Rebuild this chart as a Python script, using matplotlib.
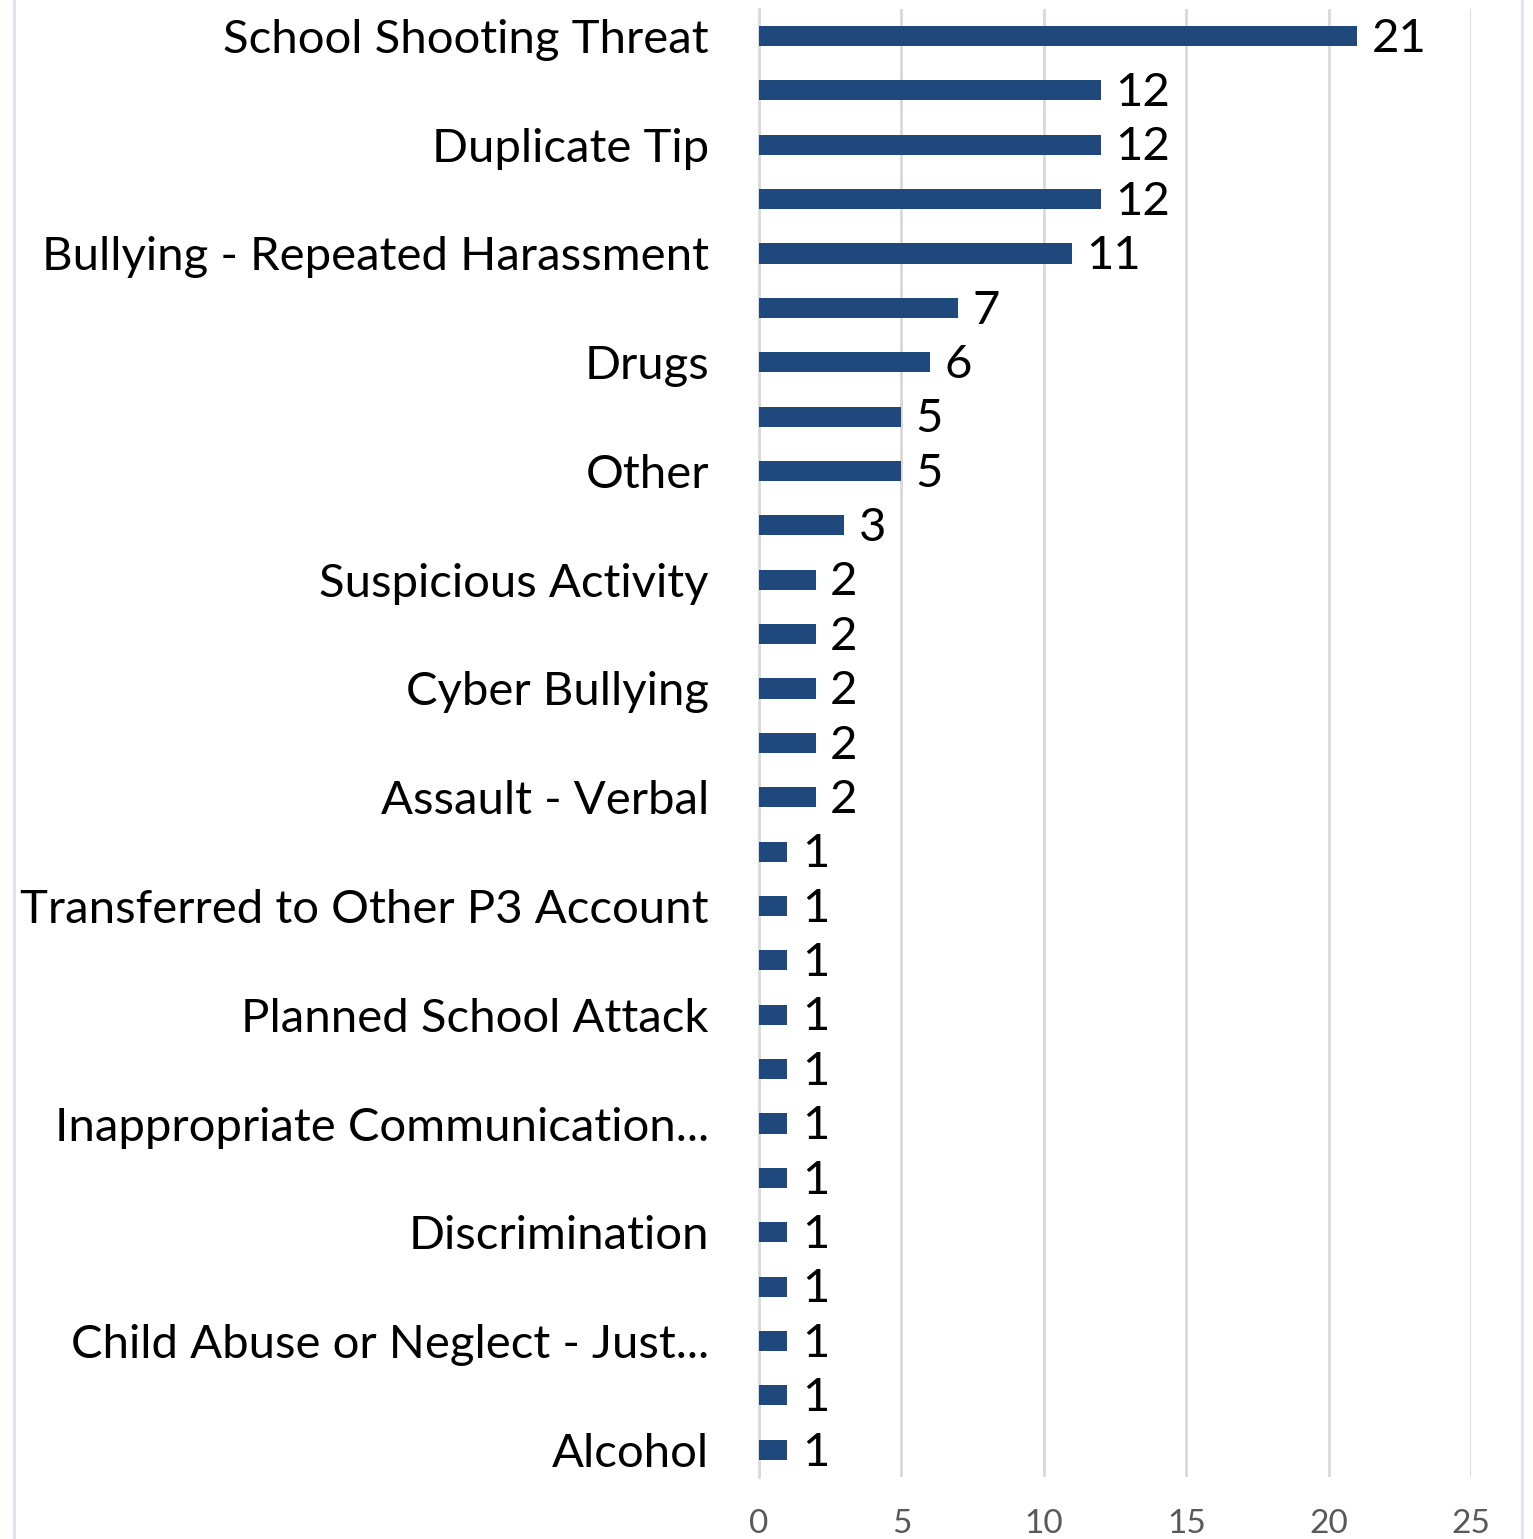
import matplotlib
matplotlib.use('Agg')
import matplotlib.pyplot as plt
from matplotlib.lines import Line2D

# Categorías (solo se ven una de cada dos etiquetas en el original)
categories = [
    'School Shooting Threat', '', 'Duplicate Tip', '',
    'Bullying - Repeated Harassment', '', 'Drugs', '', 'Other', '',
    'Suspicious Activity', '', 'Cyber Bullying', '', 'Assault - Verbal', '',
    'Transferred to Other P3 Account', '', 'Planned School Attack', '',
    'Inappropriate Communication...', '', 'Discrimination', '',
    'Child Abuse or Neglect - Just...', '', 'Alcohol',
]
counts = [21, 12, 12, 12, 11, 7, 6, 5, 5, 3, 2, 2, 2, 2, 2,
          1, 1, 1, 1, 1, 1, 1, 1, 1, 1, 1, 1]
x_ticks = [0, 5, 10, 15, 20, 25]

BAR_COLOR = '#1f497d'
FONT = ['Lato', 'DejaVu Sans']

fig = plt.figure(figsize=(15.33, 15.39), dpi=100)
ax = fig.add_axes([0.4951, 0.0403, 0.4645, 0.954])

y = list(range(len(counts)))
ax.barh(y, counts, height=0.37, color=BAR_COLOR, zorder=3)

for yi, v in zip(y, counts):
    ax.text(v + 0.5, yi + 0.05, str(v), va='center', ha='left', fontsize=34,
            family=FONT, color='black')

ax.set_yticks(y)
ax.set_yticklabels(categories, fontsize=34, family=FONT)
ax.set_ylim(len(counts) - 0.5, -0.5)
ax.set_xlim(0, 25)
ax.set_xticks(x_ticks)
ax.set_xticklabels([str(t) for t in x_ticks], fontsize=24, color='#595959', family=FONT)
ax.tick_params(axis='y', length=0, pad=36)
ax.tick_params(axis='x', length=0, pad=23)

ax.grid(axis='x', color='#d9d9d9', linewidth=2, zorder=0)
for s in ['top', 'right', 'bottom']:
    ax.spines[s].set_visible(False)
ax.spines['left'].set_color('#d9d9d9')
ax.spines['left'].set_linewidth(2)

# bordes azul claro a izquierda y derecha
for xf in [14 / 1533, 1522 / 1533]:
    fig.add_artist(Line2D([xf, xf], [0, 1], transform=fig.transFigure,
                          color='#dae3f3', linewidth=2))

fig.savefig('out.png', dpi=100)
